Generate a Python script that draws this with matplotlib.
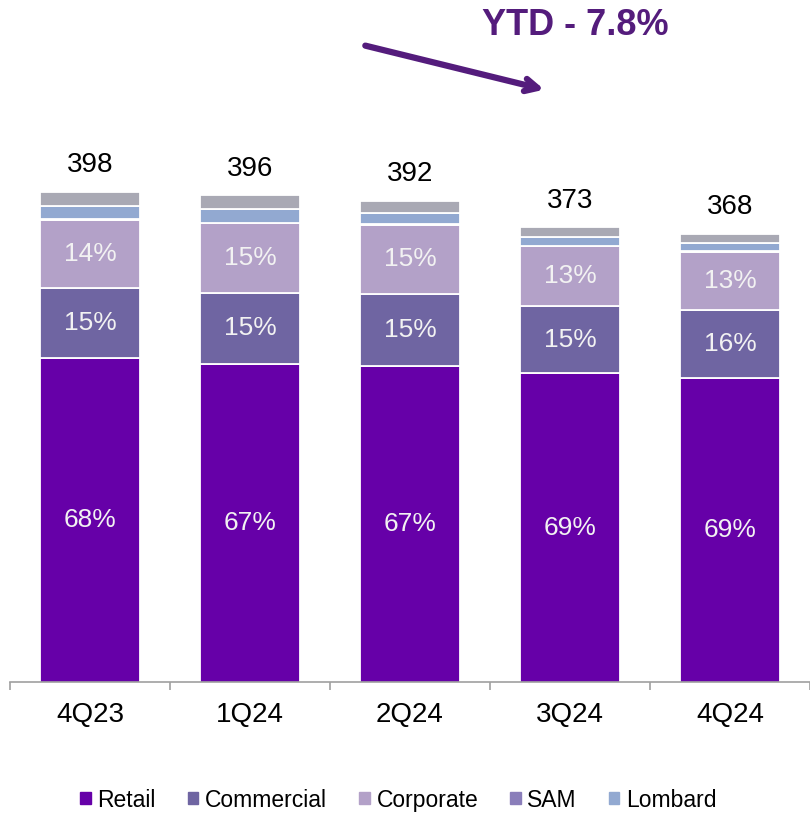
import matplotlib.pyplot as plt
from matplotlib.patches import Patch

plt.rcParams['font.family'] = ['Liberation Sans', 'DejaVu Sans']

quarters = ["4Q23", "1Q24", "2Q24", "3Q24", "4Q24"]
totals = [398, 396, 392, 373, 368]
retail = [279.8, 276.0, 274.5, 269.1, 265.8]
commercial = [49.8, 50.5, 50.9, 47.9, 48.5]
corporate = [48.8, 49.3, 49.5, 42.4, 41.2]
sam = [0.5, 0.5, 0.5, 0.5, 0.5]
lombard = [9.2, 9.5, 7.8, 6.4, 5.9]
other = [10.0, 10.0, 8.5, 6.9, 6.4]

retail_pct = ["68%", "67%", "67%", "69%", "69%"]
commercial_pct = ["15%", "15%", "15%", "15%", "16%"]
corporate_pct = ["14%", "15%", "15%", "13%", "13%"]

colors = {
    "Retail": "#6600A8",
    "Commercial": "#6F65A2",
    "Corporate": "#B3A1C8",
    "SAM": "#8A7EBA",
    "Lombard": "#92A9D1",
    "Other": "#A9A9B4",
}

ymin = 50
fig = plt.figure(figsize=(8.1, 8.15), dpi=100)
ax = fig.add_axes([0.0123, 0.1636, 0.9877, 0.6906])

x = range(len(quarters))
series = [("Retail", retail), ("Commercial", commercial), ("Corporate", corporate),
          ("SAM", sam), ("Lombard", lombard), ("Other", other)]
bottom = [0.0] * len(quarters)
bottoms = {}
for name, vals in series:
    bottoms[name] = list(bottom)
    ax.bar(x, vals, width=0.62, bottom=bottom, color=colors[name],
           edgecolor="white", linewidth=1.3)
    bottom = [b + v for b, v in zip(bottom, vals)]

# percentage labels inside the three big segments, totals above the bars
txt_kw = dict(ha="center", va="center", color="#F2F2F2", fontsize=19)
for i in x:
    ax.text(i, (ymin + retail[i]) / 2, retail_pct[i], **txt_kw)
    ax.text(i, bottoms["Commercial"][i] + commercial[i] / 2, commercial_pct[i], **txt_kw)
    ax.text(i, bottoms["Corporate"][i] + corporate[i] / 2, corporate_pct[i], **txt_kw)
    ax.annotate(str(totals[i]), (i, bottom[i]), xytext=(0, 19),
                textcoords="offset points", ha="center", va="center",
                fontsize=20, color="black")

ax.set_ylim(ymin, 450)
ax.set_xlim(-0.5, 4.5)
for s in ["top", "right", "left"]:
    ax.spines[s].set_visible(False)
ax.spines["bottom"].set_color("#A0A0A0")
ax.spines["bottom"].set_linewidth(1.2)
ax.set_yticks([])
ax.set_xticks(list(x))
ax.set_xticklabels(quarters, fontsize=20)
ax.tick_params(axis="x", which="major", length=0, pad=15)
ax.set_xticks([i - 0.5 for i in range(len(quarters) + 1)], minor=True)
ax.tick_params(axis="x", which="minor", length=6, width=1.2, color="#A0A0A0")

fig.text(0.825, 0.969, "YTD - 7.8%", ha="right", va="center", fontsize=26,
         fontweight="bold", color="#541C7C")
ax.annotate("", xy=(0.672, 0.890), xytext=(0.451, 0.944),
            xycoords="figure fraction", textcoords="figure fraction",
            arrowprops=dict(arrowstyle="->,head_length=0.9,head_width=0.45",
                            color="#541C7C", lw=4.5, shrinkA=0, shrinkB=0))

handles = [Patch(color=colors[n]) for n in ["Retail", "Commercial", "Corporate", "SAM", "Lombard"]]
fig.legend(handles, ["Retail", "Commercial", "Corporate", "SAM", "Lombard"],
           loc="center", bbox_to_anchor=(0.492, 0.0184), ncol=5, frameon=False,
           fontsize=16.5, handlelength=0.45, handleheight=0.45,
           handletextpad=0.3, columnspacing=1.4)

fig.savefig("out.png", dpi=100)
